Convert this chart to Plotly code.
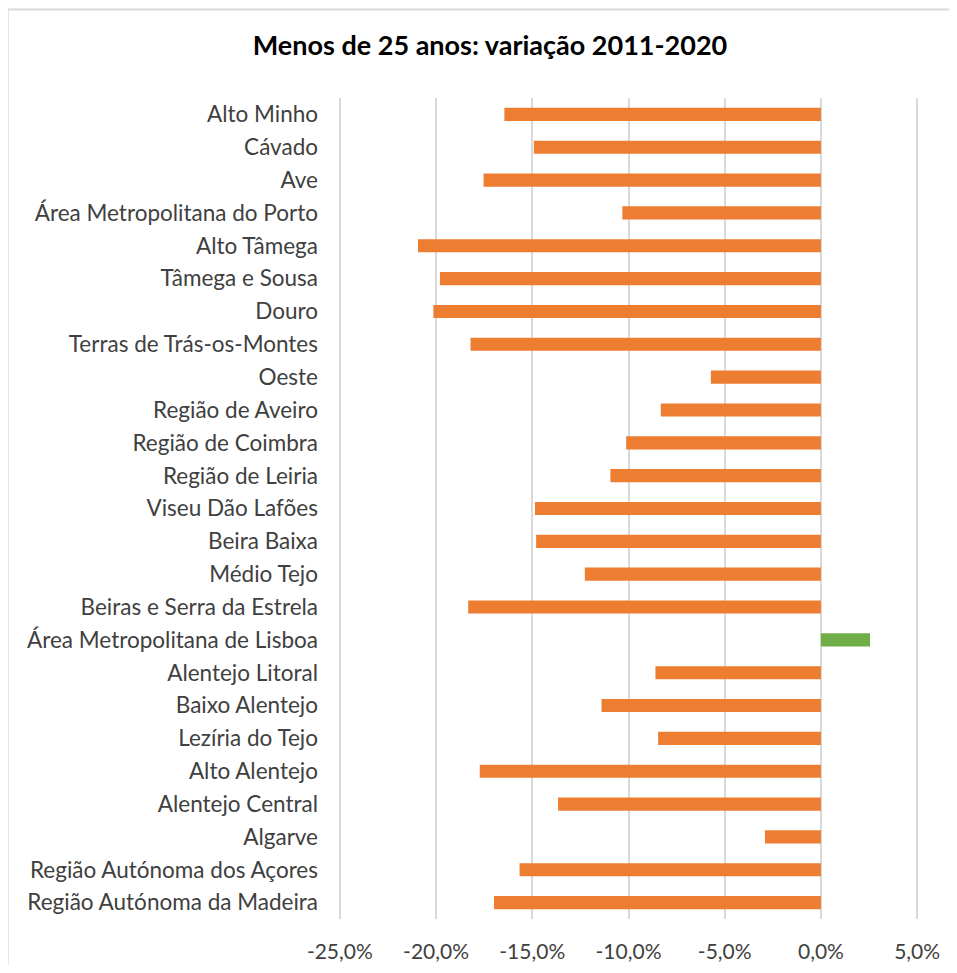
import plotly.graph_objects as go

regions = [
    "Alto Minho", "Cávado", "Ave", "Área Metropolitana do Porto", "Alto Tâmega",
    "Tâmega e Sousa", "Douro", "Terras de Trás-os-Montes", "Oeste", "Região de Aveiro",
    "Região de Coimbra", "Região de Leiria", "Viseu Dão Lafões", "Beira Baixa", "Médio Tejo",
    "Beiras e Serra da Estrela", "Área Metropolitana de Lisboa", "Alentejo Litoral",
    "Baixo Alentejo", "Lezíria do Tejo", "Alto Alentejo", "Alentejo Central", "Algarve",
    "Região Autónoma dos Açores", "Região Autónoma da Madeira",
]
variation = [
    -0.1645, -0.1492, -0.1753, -0.1032, -0.2094,
    -0.1980, -0.2014, -0.1821, -0.0572, -0.0832,
    -0.1012, -0.1094, -0.1486, -0.1480, -0.1227,
    -0.1833, 0.0255, -0.0860,
    -0.1140, -0.0846, -0.1773, -0.1366, -0.0291,
    -0.1566, -0.1699,
]
tick_values = [-0.25, -0.20, -0.15, -0.10, -0.05, 0.0, 0.05]
tick_labels = ["-25,0%", "-20,0%", "-15,0%", "-10,0%", "-5,0%", "0,0%", "5,0%"]
title_text = "Menos de 25 anos: variação 2011-2020"

ORANGE = "#ED7D31"
GREEN = "#70AD47"
colors = [GREEN if v > 0 else ORANGE for v in variation]

# page has an 8px body margin; compensate so the picture lands where the reference is
OFF = 8
PAD = 0.002                     # small range padding so edge gridlines are drawn
PX_PER_UNIT = (917 - 340) / 0.30
PAD_PX = PAD * PX_PER_UNIT
W, H = 957 - OFF, 973 - 2 * OFF
ML = 340 - OFF - PAD_PX
MR = W - (917 - OFF) - PAD_PX
MT = 97.6 - OFF
MB = H - (919.4 - OFF)
PW, PH = W - ML - MR, H - MT - MB

def px_x(px):
    return (px - OFF - ML) / PW

def px_y(py):
    return (H - MB - (py - OFF)) / PH

FONT = "Lato"
BORDER = dict(color="#D9D9D9", width=2)

fig = go.Figure(go.Bar(
    x=variation, y=regions, orientation="h",
    marker=dict(color=colors, line=dict(width=0)),
    width=0.4,
))

fig.update_layout(
    width=W, height=H,
    margin=dict(l=ML, r=MR, t=MT, b=MB, autoexpand=False),
    paper_bgcolor="white", plot_bgcolor="white",
    showlegend=False,
    font=dict(family=FONT, size=22, color="#404040"),
    title=dict(
        text="<b>" + title_text + "</b>",
        font=dict(family=FONT, size=27, color="#000000"),
        xref="container", yref="container",
        x=(490 - OFF) / W, y=1 - (46 - OFF) / H, xanchor="center", yanchor="middle",
    ),
    xaxis=dict(
        range=[-0.25 - PAD, 0.05 + PAD], tickvals=tick_values, ticktext=tick_labels,
        showgrid=True, gridcolor="#D9D9D9", gridwidth=1.5,
        zeroline=False, showline=False, ticks="",
        ticklabelstandoff=18,
        tickfont=dict(family=FONT, size=21, color="#404040"),
    ),
    yaxis=dict(
        autorange="reversed", showgrid=False, zeroline=False, showline=False,
        ticks="", ticklabelstandoff=int(round(21 - PAD_PX)),
        tickfont=dict(family=FONT, size=22.5, color="#404040"),
    ),
    shapes=[
        dict(type="line", xref="paper", yref="paper",
             x0=px_x(8), x1=px_x(957), y0=px_y(9), y1=px_y(9),
             line=BORDER, layer="below"),
        dict(type="line", xref="paper", yref="paper",
             x0=px_x(8), x1=px_x(8), y0=px_y(9), y1=px_y(973),
             line=BORDER, layer="below"),
    ],
)

fig.write_html("out.html")
